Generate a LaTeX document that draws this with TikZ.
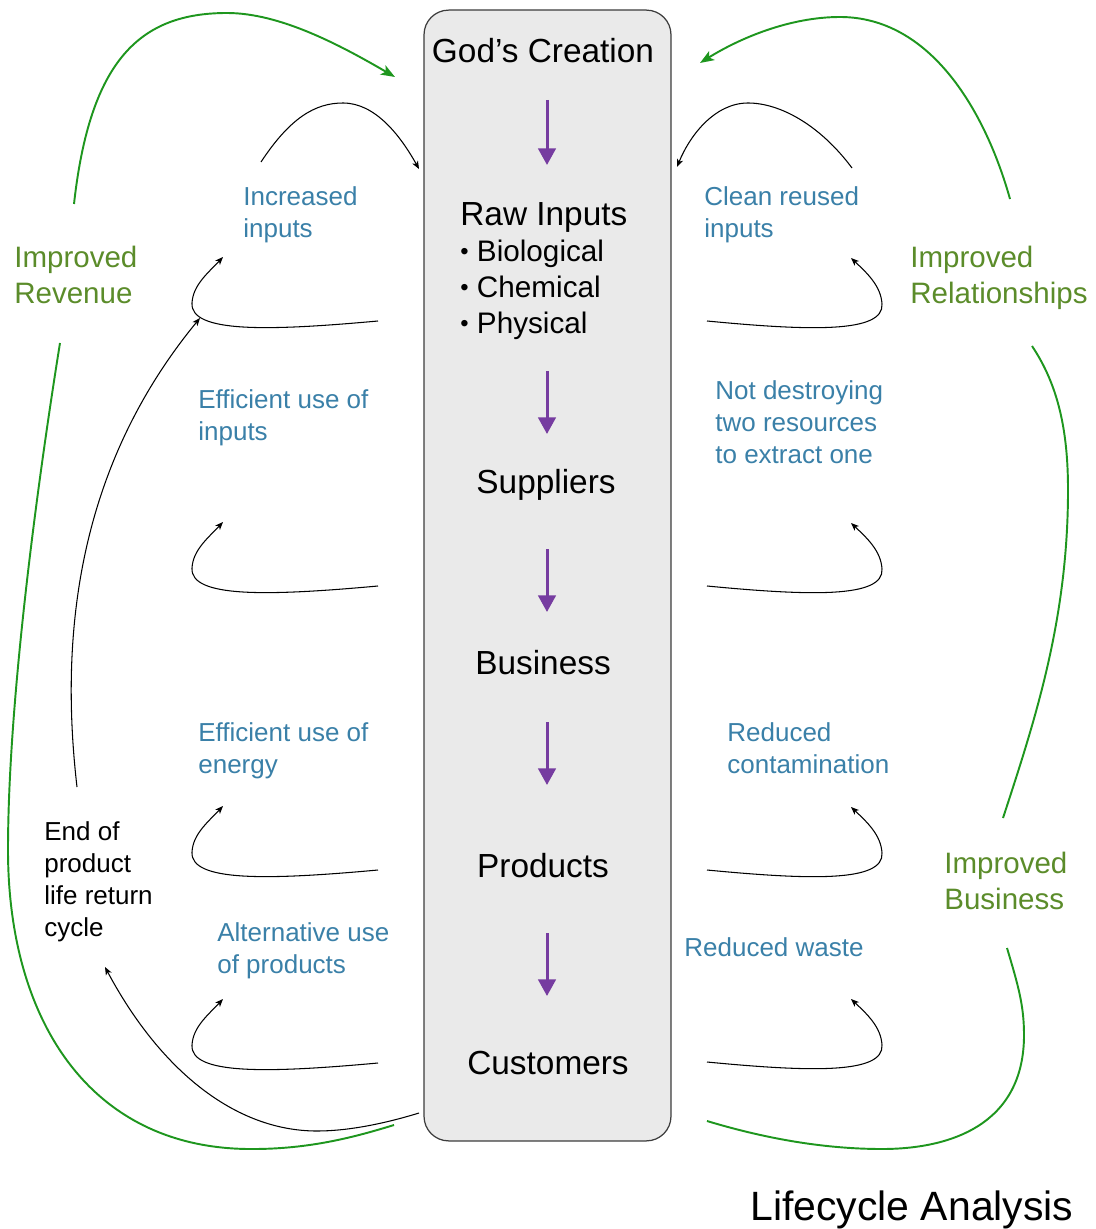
\documentclass[tikz,border=0pt]{standalone}
\usepackage{fontspec}
\setmainfont{Liberation Sans}
\usetikzlibrary{arrows.meta}

\definecolor{flowblue}{RGB}{58,128,168}
\definecolor{benefitgreen}{RGB}{91,140,42}
\definecolor{loopgreen}{RGB}{30,150,30}
\definecolor{stagepurple}{RGB}{118,60,160}
\definecolor{panelgray}{RGB}{234,234,234}
\definecolor{paneledge}{RGB}{60,60,60}

\newcommand\fsz[2]{\fontsize{#1}{#2}\selectfont}
\newcommand\smallbullet{\raisebox{0.05em}{\scalebox{0.8}{\textbullet}}\hspace{0.28em}}

\tikzset{
  stage/.style={anchor=base, inner sep=0pt, font=\fsz{19}{23}},
  effect/.style={anchor=north west, inner sep=0pt, align=left, text=flowblue, font=\fsz{14.8}{18.2}},
  benefit/.style={anchor=north west, inner sep=0pt, align=left, text=benefitgreen, font=\fsz{16.8}{20.5}},
  remark/.style={anchor=north west, inner sep=0pt, align=left, font=\fsz{14.8}{18.2}},
  flow/.style={stagepurple, line width=1.7pt, -{Triangle[length=9.5pt,width=10pt]}},
  link/.style={black, line width=0.6pt, -{Stealth[length=4.5pt,width=3.6pt,inset=1.2pt]}},
  greenloop/.style={loopgreen, line width=1.1pt},
  greenarrow/.style={greenloop, -{Stealth[length=8pt,width=6pt,inset=2pt]}},
  lefthook/.pic={\draw[link] (0,0) .. controls (-110,10) and (-188,12) .. (-186,-18)
      .. controls (-185,-36) and (-170,-48) .. (-155,-64);},
  righthook/.pic={\draw[link] (0,0) .. controls (104,10) and (177,12) .. (175,-17)
      .. controls (174,-35) and (160,-48) .. (144,-63);}
}

\begin{document}
\begin{tikzpicture}[x=0.02cm,y=-0.02cm]
\useasboundingbox (0,0) rectangle (1095,1229);

% central column of stages
\node (panel) [draw=paneledge, line width=0.7pt, fill=panelgray, rounded corners=14pt,
  minimum width=4.94cm, minimum height=22.62cm, inner sep=0pt] at (547.5,575.5) {};

\node (god) [stage] at (543,63) {God’s Creation};
\node (raw) [anchor=north west, inner sep=0pt, align=left, font=\fsz{16.9}{20.5}] at (460,202)
  {{\fsz{19}{20.5}Raw Inputs}\\\smallbullet Biological\\\smallbullet Chemical\\\smallbullet Physical};
\node (sup) [stage] at (546,493) {Suppliers};
\node (bus) [stage] at (543,674) {Business};
\node (prod) [stage] at (543,877) {Products};
\node (cust) [stage] at (548,1074) {Customers};

% downward flow between stages
\coordinate (f1a) at (547,100); \coordinate (f1b) at (547,165);
\coordinate (f2a) at (547,371); \coordinate (f2b) at (547,434);
\coordinate (f3a) at (547,549); \coordinate (f3b) at (547,612);
\coordinate (f4a) at (547,722); \coordinate (f4b) at (547,785);
\coordinate (f5a) at (547,933); \coordinate (f5b) at (547,996);
\foreach \s in {1,...,5} \draw[flow] (f\s a) -- (f\s b);

% effects on the left
\node (incr) [effect] at (243,186) {Increased\\inputs};
\node (effin) [effect] at (198,389) {Efficient use of\\inputs};
\node (effen) [effect] at (198,722) {Efficient use of\\energy};
\node (alt) [effect] at (217,922) {Alternative use\\of products};

% effects on the right
\node (clean) [effect] at (704,186) {Clean reused\\inputs};
\node (notd) [effect] at (715,380) {Not destroying\\two resources\\to extract one};
\node (redc) [effect] at (727,722) {Reduced\\contamination};
\node (redw) [effect] at (684,937) {Reduced waste};

% benefits
\node (rev) [benefit] at (14,246) {Improved\\Revenue};
\node (rel) [benefit] at (910,246) {Improved\\Relationships};
\node (ibus) [benefit] at (944,852) {Improved\\Business};

\node (eol) [remark] at (44,821) {End of\\product\\life return\\cycle};

\node (title) [anchor=base west, inner sep=0pt, font=\fsz{23.3}{28}] at (750,1220) {Lifecycle Analysis};

% hooks from each stage toward its effect
\pic at (378,321) {lefthook};
\pic at (378,586) {lefthook};
\pic at (378,870) {lefthook};
\pic at (378,1063) {lefthook};
\pic at (707,321) {righthook};
\pic at (707,586) {righthook};
\pic at (707,870) {righthook};
\pic at (707,1062) {righthook};

% arcs feeding back into the top of the column
\coordinate (la0) at (261,162); \coordinate (la1) at (343,103); \coordinate (la2) at (419,169);
\draw[link] (la0) .. controls (290,118) and (315,103) .. (la1) .. controls (375,103) and (400,135) .. (la2);
\coordinate (ra0) at (852,168); \coordinate (ra1) at (748,103); \coordinate (ra2) at (677,167);
\draw[link] (ra0) .. controls (820,125) and (780,103) .. (ra1) .. controls (715,103) and (690,135) .. (ra2);

% end of product life return cycle
\coordinate (cu0) at (419,1113); \coordinate (cu1) at (317,1131); \coordinate (eolin) at (105,967);
\draw[link] (cu0) .. controls (380,1125) and (345,1131) .. (cu1) .. controls (235,1131) and (160,1070) .. (eolin);
\coordinate (eolout) at (77,787); \coordinate (hookjoin) at (200,318);
\draw[link] (eolout) .. controls (60,640) and (75,470) .. (hookjoin);

% green benefit loops
\coordinate (g1a) at (74,204); \coordinate (g1b) at (227,13); \coordinate (g1c) at (395,77);
\draw[greenarrow] (g1a) .. controls (90,60) and (140,13) .. (g1b) .. controls (280,13) and (340,45) .. (g1c);

\coordinate (g2a) at (1010,199); \coordinate (g2b) at (840,17); \coordinate (g2c) at (700,63);
\draw[greenarrow] (g2a) .. controls (985,110) and (930,17) .. (g2b) .. controls (790,17) and (740,38) .. (g2c);

\coordinate (g3a) at (60,343); \coordinate (g3b) at (8,850); \coordinate (g3c) at (253,1149); \coordinate (g3d) at (394,1125);
\draw[greenloop] (g3a) .. controls (38,480) and (8,700) .. (g3b) .. controls (8,1020) and (90,1150) .. (g3c)
  .. controls (310,1149) and (355,1137) .. (g3d);

\coordinate (g4a) at (1032,346); \coordinate (g4b) at (1068,490); \coordinate (g4c) at (1003,818);
\draw[greenloop] (g4a) .. controls (1058,385) and (1068,430) .. (g4b) .. controls (1068,620) and (1035,720) .. (g4c);

\coordinate (g5a) at (1007,948); \coordinate (g5b) at (1024,1035); \coordinate (g5c) at (882,1149); \coordinate (g5d) at (707,1121);
\draw[greenloop] (g5a) .. controls (1018,985) and (1024,1005) .. (g5b) .. controls (1024,1125) and (950,1149) .. (g5c)
  .. controls (820,1149) and (760,1137) .. (g5d);
\end{tikzpicture}
\end{document}
